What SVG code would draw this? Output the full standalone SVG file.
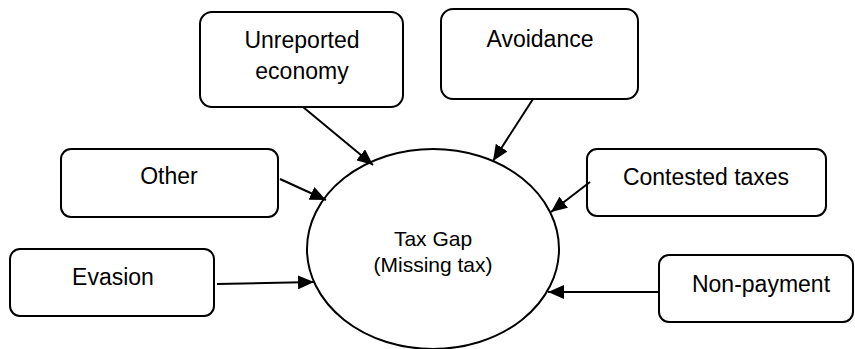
<svg xmlns="http://www.w3.org/2000/svg" width="855" height="349" viewBox="0 0 855 349">
<style>
.box{fill:#fff;stroke:#000;stroke-width:2}
.lbl{font-family:"Liberation Sans",Arial,sans-serif;font-size:23px;fill:#000;text-anchor:middle}
.ctr{font-family:"Liberation Sans",Arial,sans-serif;font-size:21px;fill:#000;text-anchor:middle}
.con{stroke:#000;stroke-width:2;fill:none;marker-end:url(#ah)}
</style>
<defs>
<marker id="ah" markerUnits="userSpaceOnUse" markerWidth="18" markerHeight="14" refX="16" refY="7" orient="auto">
<path d="M0,0 L16,7 L0,14 Z" fill="#000"/>
</marker>
</defs>
<rect width="855" height="349" fill="#fff"/>
<g id="center">
<ellipse cx="433" cy="249" rx="126" ry="100" class="box"/>
<text class="ctr" x="433" y="246">Tax Gap</text>
<text class="ctr" x="433" y="272">(Missing tax)</text>
</g>
<g id="unreported">
<rect x="200" y="12" width="203" height="95" rx="12" class="box"/>
<text class="lbl" x="302" y="48">Unreported</text>
<text class="lbl" x="302" y="79">economy</text>
</g>
<g id="avoidance">
<rect x="441" y="9" width="197" height="90" rx="12" class="box"/>
<text class="lbl" x="540" y="47">Avoidance</text>
</g>
<g id="other">
<rect x="61" y="149" width="217" height="68" rx="10" class="box"/>
<text class="lbl" x="169" y="184">Other</text>
</g>
<g id="evasion">
<rect x="10" y="249" width="204" height="67" rx="10" class="box"/>
<text class="lbl" x="113" y="285">Evasion</text>
</g>
<g id="contested">
<rect x="587" y="149" width="239" height="67" rx="10" class="box"/>
<text class="lbl" x="706" y="185">Contested taxes</text>
</g>
<g id="nonpayment">
<rect x="659" y="255" width="194" height="67" rx="10" class="box"/>
<text class="lbl" x="761" y="292">Non-payment</text>
</g>
<g id="connectors">
<line class="con" x1="303" y1="107" x2="373" y2="165"/>
<line class="con" x1="533" y1="99" x2="493" y2="161"/>
<line class="con" x1="280" y1="179" x2="326" y2="200"/>
<line class="con" x1="217" y1="284" x2="314" y2="282"/>
<line class="con" x1="590" y1="182" x2="551" y2="212"/>
<line class="con" x1="659" y1="292" x2="548" y2="292"/>
</g>
</svg>
